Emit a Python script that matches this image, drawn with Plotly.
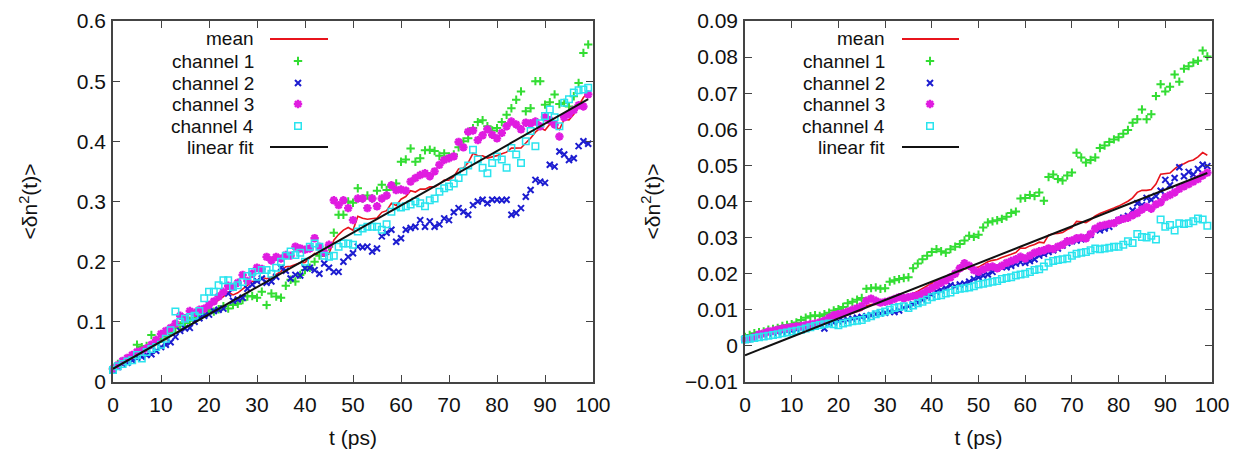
import numpy as np
import plotly.graph_objects as go

# time axis (ps)
t = list(range(100))

# ---- left panel ----
left_ch1 = [0.022, 0.03, 0.034, 0.038, 0.042, 0.062, 0.058, 0.06, 0.078, 0.07,
            0.072, 0.076, 0.082, 0.09, 0.094, 0.098, 0.102, 0.106, 0.112, 0.118,
            0.12, 0.117, 0.121, 0.126, 0.122, 0.128, 0.13, 0.136, 0.142, 0.143,
            0.14, 0.15, 0.128, 0.147, 0.142, 0.14, 0.16, 0.17, 0.167, 0.178,
            0.186, 0.19, 0.2, 0.21, 0.215, 0.225, 0.248, 0.278, 0.278, 0.3,
            0.298, 0.322, 0.305, 0.31, 0.305, 0.318, 0.328, 0.319, 0.325, 0.33,
            0.366, 0.37, 0.388, 0.366, 0.372, 0.385, 0.386, 0.384, 0.376, 0.38,
            0.375, 0.378, 0.39, 0.4, 0.405, 0.422, 0.432, 0.435, 0.425, 0.418,
            0.422, 0.432, 0.444, 0.455, 0.469, 0.483, 0.45, 0.455, 0.5, 0.5,
            0.461, 0.465, 0.478, 0.462, 0.464, 0.458, 0.475, 0.497, 0.547, 0.561]
left_ch2 = [0.02, 0.025, 0.03, 0.032, 0.036, 0.04, 0.042, 0.045, 0.046, 0.052,
            0.058, 0.062, 0.066, 0.075, 0.085, 0.089, 0.09, 0.1, 0.106, 0.11,
            0.112, 0.118, 0.12, 0.122, 0.147, 0.135, 0.137, 0.14, 0.155, 0.162,
            0.168, 0.172, 0.165, 0.167, 0.175, 0.19, 0.185, 0.172, 0.178, 0.177,
            0.189, 0.19, 0.186, 0.18, 0.197, 0.19, 0.183, 0.183, 0.2, 0.208,
            0.214, 0.225, 0.224, 0.225, 0.217, 0.222, 0.242, 0.248, 0.253, 0.233,
            0.239, 0.253, 0.256, 0.258, 0.269, 0.258, 0.267, 0.258, 0.262, 0.272,
            0.269, 0.282, 0.289, 0.283, 0.278, 0.294, 0.3, 0.303, 0.297, 0.303,
            0.303, 0.302, 0.303, 0.278, 0.281, 0.289, 0.308, 0.319, 0.336, 0.333,
            0.331, 0.361, 0.358, 0.383, 0.378, 0.369, 0.372, 0.392, 0.4, 0.396]
left_ch3 = [0.022, 0.028, 0.035, 0.04, 0.045, 0.05, 0.052, 0.056, 0.062, 0.07,
            0.08, 0.085, 0.09, 0.097, 0.11, 0.106, 0.118, 0.115, 0.12, 0.122,
            0.128, 0.134, 0.142, 0.15, 0.16, 0.158, 0.165, 0.178, 0.168, 0.18,
            0.19, 0.188, 0.208, 0.202, 0.208, 0.205, 0.211, 0.21, 0.225, 0.222,
            0.22, 0.222, 0.239, 0.225, 0.215, 0.228, 0.302, 0.294, 0.302, 0.289,
            0.269, 0.305, 0.305, 0.289, 0.305, 0.292, 0.305, 0.31, 0.327, 0.319,
            0.32, 0.318, 0.333, 0.339, 0.344, 0.347, 0.342, 0.35, 0.361, 0.369,
            0.372, 0.375, 0.399, 0.39, 0.416, 0.418, 0.402, 0.41, 0.42, 0.411,
            0.405, 0.414, 0.425, 0.433, 0.428, 0.42, 0.431, 0.43, 0.433, 0.425,
            0.44, 0.435, 0.428, 0.408, 0.44, 0.445, 0.452, 0.46, 0.458, 0.478]
left_ch4 = [0.02, 0.026, 0.03, 0.034, 0.036, 0.045, 0.039, 0.05, 0.055, 0.058,
            0.062, 0.072, 0.086, 0.117, 0.1, 0.105, 0.108, 0.11, 0.118, 0.139,
            0.15, 0.15, 0.161, 0.169, 0.169, 0.158, 0.161, 0.166, 0.176, 0.183,
            0.175, 0.186, 0.186, 0.18, 0.19, 0.2, 0.21, 0.217, 0.211, 0.215,
            0.2, 0.225, 0.23, 0.225, 0.21, 0.208, 0.21, 0.225, 0.23, 0.23,
            0.228, 0.25, 0.255, 0.258, 0.258, 0.258, 0.253, 0.262, 0.283, 0.292,
            0.29, 0.292, 0.295, 0.3, 0.297, 0.292, 0.302, 0.305, 0.316, 0.322,
            0.325, 0.33, 0.339, 0.35, 0.36, 0.386, 0.37, 0.356, 0.347, 0.364,
            0.375, 0.37, 0.356, 0.389, 0.378, 0.364, 0.4, 0.417, 0.392, 0.43,
            0.442, 0.453, 0.44, 0.425, 0.464, 0.47, 0.481, 0.485, 0.486, 0.489]
left_fit_t = [0, 99]
left_fit = [0.022, 0.470]

# ---- right panel ----
right_ch1 = [0.0025, 0.003, 0.0035, 0.0038, 0.004, 0.0045, 0.0047, 0.005, 0.0055, 0.0058,
             0.006, 0.0065, 0.0072, 0.0078, 0.0082, 0.0085, 0.0083, 0.0088, 0.0092, 0.0098,
             0.0102, 0.0108, 0.0118, 0.0122, 0.0128, 0.0133, 0.0158, 0.016, 0.0162, 0.0158,
             0.016, 0.0178, 0.0182, 0.0185, 0.0188, 0.019, 0.0215, 0.0228, 0.024, 0.025,
             0.026, 0.0268, 0.0262, 0.0258, 0.0268, 0.0275, 0.0282, 0.0292, 0.0305, 0.0302,
             0.0308, 0.0328, 0.0342, 0.0345, 0.0348, 0.0352, 0.0358, 0.0368, 0.0372, 0.0408,
             0.041, 0.0418, 0.0415, 0.0425, 0.0402, 0.0468, 0.0475, 0.0462, 0.0458, 0.0472,
             0.048, 0.0535, 0.0522, 0.0508, 0.0515, 0.0522, 0.0548, 0.0555, 0.0565, 0.0572,
             0.0578, 0.0588, 0.0598, 0.0618, 0.0628, 0.0655, 0.0628, 0.0642, 0.0692, 0.0725,
             0.0705, 0.0718, 0.0752, 0.0732, 0.0768, 0.0775, 0.0785, 0.079, 0.0818, 0.0802]
right_ch2 = [0.002, 0.0022, 0.0025, 0.003, 0.0032, 0.0035, 0.0036, 0.0038, 0.004, 0.0042,
             0.0042, 0.0045, 0.0048, 0.005, 0.0052, 0.0055, 0.0058, 0.0048, 0.0062, 0.0065,
             0.0068, 0.007, 0.0072, 0.0075, 0.0078, 0.008, 0.0082, 0.0085, 0.0088, 0.009,
             0.0092, 0.0095, 0.0094, 0.0098, 0.0105, 0.011, 0.0115, 0.012, 0.0128, 0.0135,
             0.0142, 0.015, 0.0155, 0.016, 0.0168, 0.0165, 0.017, 0.0172, 0.0178, 0.0185,
             0.019, 0.0195, 0.0198, 0.0205, 0.0215, 0.022, 0.0218, 0.0222, 0.0228, 0.0232,
             0.023, 0.0235, 0.024, 0.025, 0.0255, 0.026, 0.0265, 0.027, 0.0278, 0.0285,
             0.029, 0.0292, 0.0295, 0.03, 0.0308, 0.0322, 0.032, 0.0325, 0.033, 0.034,
             0.0348, 0.0355, 0.036, 0.0375, 0.0395, 0.039, 0.041, 0.0405, 0.0415, 0.043,
             0.046, 0.0445, 0.0465, 0.0495, 0.047, 0.0482, 0.0475, 0.049, 0.0502, 0.0498]
right_ch3 = [0.0018, 0.002, 0.0025, 0.0032, 0.0035, 0.004, 0.0042, 0.0045, 0.0048, 0.005,
             0.0052, 0.0054, 0.0055, 0.0058, 0.006, 0.0062, 0.0065, 0.007, 0.0078, 0.0085,
             0.0088, 0.009, 0.0095, 0.01, 0.0105, 0.011, 0.0125, 0.0131, 0.0125, 0.012,
             0.0122, 0.0125, 0.013, 0.0135, 0.0132, 0.0135, 0.0138, 0.014, 0.0145, 0.0152,
             0.016, 0.0168, 0.0175, 0.0182, 0.019, 0.02, 0.0215, 0.0229, 0.0222, 0.021,
             0.0205, 0.0212, 0.0218, 0.022, 0.0215, 0.0222, 0.023, 0.0235, 0.024, 0.0247,
             0.0242, 0.025, 0.0258, 0.0262, 0.0265, 0.027, 0.0268, 0.0275, 0.028, 0.029,
             0.0292, 0.0298, 0.03, 0.0298, 0.031, 0.0325, 0.0332, 0.0335, 0.0338, 0.034,
             0.0348, 0.0352, 0.0355, 0.0362, 0.0368, 0.0378, 0.0385, 0.038, 0.0392, 0.0398,
             0.0412, 0.0418, 0.0425, 0.0435, 0.0442, 0.0448, 0.0455, 0.0462, 0.0472, 0.048]
right_ch4 = [0.0018, 0.002, 0.0022, 0.0024, 0.0026, 0.0028, 0.003, 0.0032, 0.0035, 0.0037,
             0.004, 0.0042, 0.0045, 0.0048, 0.0052, 0.0055, 0.0058, 0.006, 0.0062, 0.006,
             0.0057, 0.0062, 0.0065, 0.0068, 0.007, 0.0072, 0.0078, 0.0082, 0.0088, 0.0092,
             0.0095, 0.01, 0.0105, 0.0108, 0.011, 0.0105, 0.0112, 0.0118, 0.0122, 0.0128,
             0.0135, 0.0138, 0.014, 0.0145, 0.0148, 0.0155, 0.0158, 0.016, 0.0162, 0.0165,
             0.017, 0.0172, 0.0175, 0.0178, 0.018, 0.0185, 0.0188, 0.019, 0.0195, 0.0198,
             0.02, 0.0205, 0.021, 0.0212, 0.022, 0.023, 0.0235, 0.0238, 0.024, 0.0242,
             0.025, 0.0255, 0.0258, 0.026, 0.0265, 0.027, 0.0268, 0.027, 0.0272, 0.0275,
             0.0275, 0.028, 0.029, 0.0285, 0.031, 0.0302, 0.03, 0.0305, 0.0295, 0.035,
             0.033, 0.0335, 0.032, 0.034, 0.0338, 0.034, 0.0345, 0.0353, 0.035, 0.0333]
right_fit_t = [0, 99]
right_fit = [-0.0026, 0.0479]

labels = ["mean", "channel 1", "channel 2", "channel 3", "channel 4", "linear fit"]

# mean curve = average of the four channels
left_mean = np.mean([left_ch1, left_ch2, left_ch3, left_ch4], axis=0)
right_mean = np.mean([right_ch1, right_ch2, right_ch3, right_ch4], axis=0)

W, H = 1238, 449
ML, MR, MT, MB = 113, 26, 21, 67          # plot area = x 113..1212, y 21..382
PW = W - ML - MR
FONT = "Liberation Sans, Arial, sans-serif"
RED, GREEN, BLUE, MAG, CYAN, BLACK = "#e8141c", "#33dd33", "#1c1cd0", "#e01ce0", "#2ae4ee", "#111111"

marker_styles = {
    "channel 1": dict(symbol="cross-thin", size=6, color=GREEN, line=dict(width=2, color=GREEN)),
    "channel 2": dict(symbol="x-thin", size=6, color=BLUE, line=dict(width=2, color=BLUE)),
    "channel 3": dict(symbol="asterisk", size=7, color=MAG, line=dict(width=2.4, color=MAG)),
    "channel 4": dict(symbol="square-open", size=6.5, color=CYAN, line=dict(width=1.5, color=CYAN)),
}

fig = go.Figure()


def add_panel(xa, ya, mean, chans, fit_t, fit):
    fig.add_trace(go.Scatter(x=t, y=mean, mode="lines", line=dict(color=RED, width=1.6),
                             xaxis=xa, yaxis=ya, cliponaxis=False))
    for name, vals in zip(labels[1:5], chans):
        fig.add_trace(go.Scatter(x=t, y=vals, mode="markers", marker=marker_styles[name],
                                 xaxis=xa, yaxis=ya, cliponaxis=False))
    fig.add_trace(go.Scatter(x=fit_t, y=fit, mode="lines", line=dict(color=BLACK, width=2),
                             xaxis=xa, yaxis=ya))


add_panel("x", "y", left_mean, [left_ch1, left_ch2, left_ch3, left_ch4], left_fit_t, left_fit)
add_panel("x2", "y2", right_mean, [right_ch1, right_ch2, right_ch3, right_ch4], right_fit_t, right_fit)

# gnuplot-style key: right-aligned text, sample to its right (pixel positions)
key_rows = [39, 61, 83, 104, 126, 147]
keys = [dict(text_right=256, line=(270, 328), mark=298),
        dict(text_right=887, line=(902, 959), mark=930)]
for k in keys:
    for lab, row in zip(labels, key_rows):
        fig.add_annotation(text=lab, xref="paper", yref="paper",
                           x=(k["text_right"] - ML) / PW, y=(H - MB - row) / (H - MT - MB),
                           xanchor="right", yanchor="middle", showarrow=False,
                           font=dict(family=FONT, size=19, color="#111"))
        if lab in marker_styles:
            fig.add_trace(go.Scatter(x=[k["mark"]], y=[row], mode="markers",
                                     marker=marker_styles[lab], xaxis="x3", yaxis="y3"))
        else:
            c = RED if lab == "mean" else BLACK
            fig.add_trace(go.Scatter(x=list(k["line"]), y=[row, row], mode="lines",
                                     line=dict(color=c, width=2), xaxis="x3", yaxis="y3"))

axis_common = dict(showline=True, linecolor="#444", linewidth=1.5, mirror="ticks",
                   ticks="inside", ticklen=7, tickwidth=1.3, tickcolor="#444",
                   showgrid=False, zeroline=False, automargin=False,
                   tickfont=dict(family=FONT, size=21, color="#111"),
                   title_font=dict(family=FONT, size=21, color="#111"))
xaxis_extra = dict(range=[0, 100], dtick=10, ticklabelstandoff=3,
                   title=dict(text="t (ps)", standoff=15))
ytitle = "&lt;δn<sup>2</sup>(t)&gt;"

fig.update_layout(
    width=W, height=H, margin=dict(l=ML, r=MR, t=MT, b=MB),
    paper_bgcolor="white", plot_bgcolor="rgba(0,0,0,0)", showlegend=False,
    xaxis=dict(axis_common, **xaxis_extra, domain=[0, (593 - ML) / PW], anchor="y"),
    yaxis=dict(axis_common, domain=[0, 1], range=[0, 0.6], dtick=0.1, anchor="x",
               ticklabelstandoff=1, title=dict(text=ytitle, standoff=33)),
    xaxis2=dict(axis_common, **xaxis_extra, domain=[(745 - ML) / PW, 1], anchor="y2"),
    yaxis2=dict(axis_common, domain=[0, 1], range=[-0.01, 0.09], dtick=0.01, anchor="x2",
                ticklabelstandoff=1, title=dict(text=ytitle, standoff=19)),
    xaxis3=dict(domain=[0, 1], range=[ML, W - MR], visible=False, anchor="y3", fixedrange=True),
    yaxis3=dict(domain=[0, 1], range=[H - MB, MT], visible=False, anchor="x3", fixedrange=True),
)

# drop the default 8px page margin so the figure sits at the window origin
fig.write_html("out.html", config={"displayModeBar": False},
               post_script="document.body.style.margin='0px';")
